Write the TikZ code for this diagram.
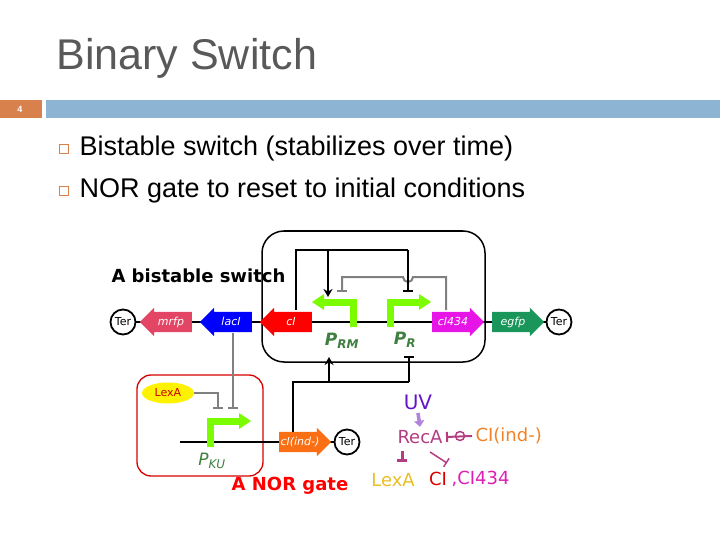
\documentclass[tikz,border=0pt]{standalone}
\usepackage{fontspec}
\setmainfont{Liberation Sans}
\newfontfamily\dv{DejaVu Sans}
\usetikzlibrary{shapes.arrows,shapes.geometric,arrows.meta}
\definecolor{ttl}{HTML}{595959}
\definecolor{barblue}{HTML}{8EB4D3}
\definecolor{barorg}{HTML}{D9814C}
\definecolor{pgreen}{HTML}{7CFC00}
\definecolor{lgreen}{HTML}{3F7F3F}
\definecolor{cmrfp}{RGB}{226,70,100}
\definecolor{cmag}{RGB}{230,20,230}
\definecolor{cegfp}{RGB}{26,150,90}
\definecolor{corange}{RGB}{250,110,20}
\definecolor{cuv}{RGB}{100,20,200}
\definecolor{creca}{RGB}{180,60,130}
\definecolor{cciind}{RGB}{240,130,40}
\definecolor{clexa}{RGB}{235,190,40}
\definecolor{cci434}{RGB}{220,30,180}
\definecolor{cuvarr}{RGB}{180,130,220}
\tikzset{
 gene/.style={single arrow, fill=#1, draw=none, minimum height=52pt, minimum width=28pt,
   single arrow head extend=4pt, single arrow head indent=0pt, inner xsep=1pt, inner ysep=4pt,
   text height=9pt, text depth=3pt,
   text=white, font=\dv\itshape\fontsize{11}{11}\selectfont},
 left gene/.style={gene=#1, shape border rotate=180},
 ter/.style={circle, draw=black, line width=1.8pt, fill=white, minimum size=25pt, inner sep=0pt, font=\dv\fontsize{11}{11}\selectfont},
 prom/.style={pgreen, line width=7pt},
 blk/.style={black, line width=2pt},
 gry/.style={gray, line width=2pt},
 rep/.style={-{Bar[width=10pt]}},
 act/.style={-{Stealth[length=8pt,width=9pt]}},
 big/.style={font=\dv\fontsize{18}{18}\selectfont},
}
\begin{document}
\begin{tikzpicture}[x=1pt,y=-1pt]
\useasboundingbox (0,0) rectangle (720,540);
% header
\node[anchor=west, text=ttl, font=\fontsize{43}{43}\selectfont] (title) at (53,58) {Binary Switch};
\fill[barorg] (0,100) rectangle (42,118);
\node[text=white, font=\bfseries\fontsize{9}{9}\selectfont] (num) at (20,109) {4};
\fill[barblue] (46,100) rectangle (720,118);
\draw[barorg, line width=1pt] (59,145) rectangle (68,154);
\draw[barorg, line width=1pt] (59,187) rectangle (68,196);
\node[anchor=west, font=\fontsize{27}{27}\selectfont] (b1) at (76,149) {Bistable switch (stabilizes over time)};
\node[anchor=west, font=\fontsize{27}{27}\selectfont] (b2) at (76,191) {NOR gate to reset to initial conditions};
% bistable switch
\draw[black, line width=1.5pt, rounded corners=22pt] (262,231) rectangle (485,362);
\node[anchor=west, font=\dv\bfseries\fontsize{18}{18}\selectfont] (bs) at (108,276) {A bistable switch};
\node[ter] (terL) at (123,322) {Ter};
\node[ter] (terR) at (559,322) {Ter};
\draw[black, line width=2pt] (terL) -- (terR);
\node[left gene=cmrfp] (mrfp) at (171,322) {mrfp};
\node[left gene=blue] (lacI) at (231,322) {lacI};
\node[left gene=red] (cI) at (291,322) {cI};
\node[gene=cmag] (c434) at (453,322) {cI434};
\node[gene=cegfp] (egfp) at (513,322) {egfp};
% promoters
\draw[prom] (353,327) -- (353,302) -- (322,302);
\fill[pgreen] (312,302) -- (324,294) -- (324,310) -- cycle;
\draw[prom] (390,327) -- (390,302) -- (421,302);
\fill[pgreen] (431,302) -- (419,294) -- (419,310) -- cycle;
\node[text=lgreen, font=\dv\bfseries\itshape\fontsize{17}{17}\selectfont] (prm) at (342,341) {P\textsubscript{\fontsize{12}{12}\selectfont RM}};
\node[text=lgreen, font=\dv\bfseries\itshape\fontsize{17}{17}\selectfont] (pr) at (405,340) {P\textsubscript{\fontsize{12}{12}\selectfont R}};
% feedback
\coordinate (cItop) at (296,310);
\coordinate (c434top) at (446,310);
\coordinate (prmA) at (328,297);
\coordinate (prR) at (408,292);
\coordinate (prmR) at (342,292);
\draw[gry, rep] (c434top) -- (446,277) -- (413,277) arc (0:180:5) -- (342,277) -- (prmR);
\draw[blk] (cItop) -- (296,250) -- (408,250);
\draw[blk, rep] (408,250) -- (prR);
\draw[blk, act] (328,250) -- (prmA);
% NOR gate
\draw[red!85!black, line width=1.3pt, rounded corners=14pt] (137,375) rectangle (263,476);
\node[ellipse, fill=yellow, minimum width=52pt, minimum height=21pt, inner sep=0pt, text=red!80!black, font=\dv\fontsize{11}{11}\selectfont] (lexa) at (168,393) {LexA};
\coordinate (lacIt) at (233,409);
\coordinate (lexat) at (218,409);
\draw[gry, rep] (233,333) -- (lacIt);
\draw[gry, rep] (lexa.east) -- (218,393) -- (lexat);
\node[ter] (terN) at (347,442) {Ter};
\draw[black, line width=2pt] (180,442) -- (terN);
\draw[prom] (210,447) -- (210,421) -- (241,421);
\fill[pgreen] (251,421) -- (239,413) -- (239,429) -- cycle;
\node[text=lgreen, font=\dv\itshape\fontsize{17}{17}\selectfont] (pku) at (212,461) {P\textsubscript{\fontsize{12}{12}\selectfont KU}};
\node[gene=corange] (cind) at (300,442) {cI(ind-)};
\coordinate (cindt) at (293,432);
\coordinate (prmB) at (329,357);
\coordinate (prB) at (409,356);
\draw[blk] (cindt) -- (293,382) -- (409,382);
\draw[blk, rep] (409,382) -- (prB);
\draw[blk, act] (329,382) -- (prmB);
\node[text=red, font=\dv\bfseries\fontsize{18}{18}\selectfont] (nor) at (290,486) {A NOR gate};
% UV scheme
\node[text=cuv, font=\dv\fontsize{20}{20}\selectfont] (uv) at (418,402) {UV};
\node[text=creca, big] (reca) at (420,437) {RecA};
\node[anchor=west, text=cciind, big] (ciind) at (472,436) {CI(ind-)};
\node[text=clexa, big] (lexb) at (393,480) {LexA};
\node[text=red!85!black, big] (ci) at (438,479) {CI};
\node[anchor=west, text=cci434, big] (ci434) at (448,479) {,CI434};
\draw[cuvarr, line width=3.5pt, -{Triangle[length=6pt,width=10pt]}] (uv.south) -- (reca.north);
\draw[creca, line width=2pt, -{Bar[width=10pt]}] (ciind.west) -- (reca.east);
\draw[creca, line width=1.5pt] (460,436) circle (4.5pt);
\draw[creca, line width=3pt, -{Bar[width=10pt]}] (402,451) -- (402,462);
\draw[creca, line width=1.5pt, -{Bar[width=10pt]}] (430,452) -- (447,463);
\end{tikzpicture}
\end{document}
